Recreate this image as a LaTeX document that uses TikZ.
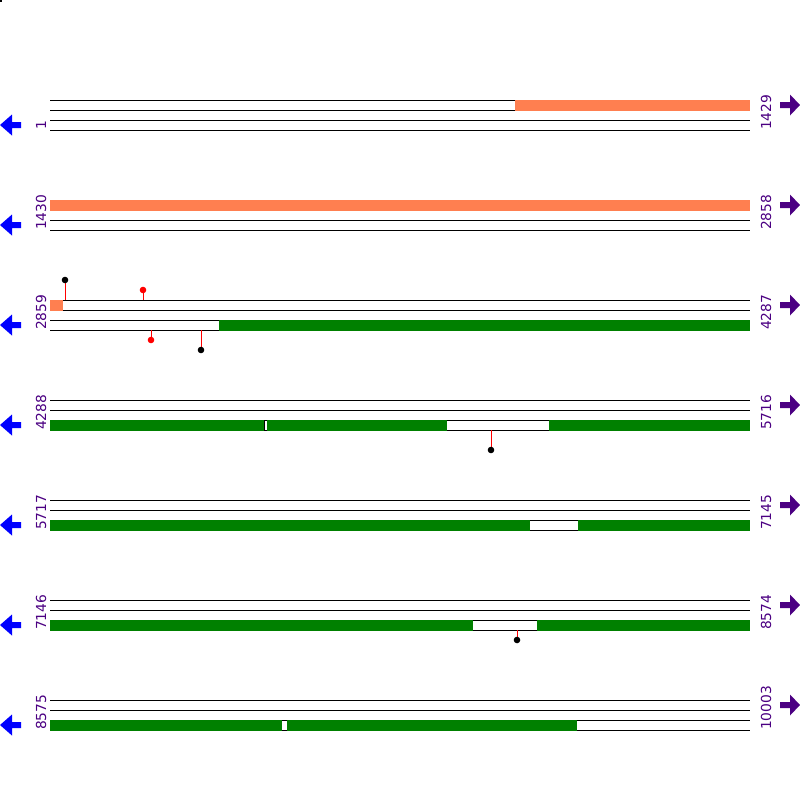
\documentclass[tikz,border=0pt]{standalone}
\usepackage{fontspec}
\newfontfamily\labfont{DejaVu Sans}
\definecolor{coralc}{HTML}{FF7F50}
\definecolor{greenc}{HTML}{008000}
\definecolor{purp}{HTML}{4B0082}
\definecolor{bluec}{HTML}{0000FF}
\definecolor{redc}{HTML}{FF0000}
\begin{document}
\begin{tikzpicture}[x=1pt,y=-1pt,
  strandline/.style={draw=black, line width=1pt},
  poslabel/.style={rotate=90, anchor=base west, text=purp, inner sep=0pt,
    font=\labfont\fontsize{13.8}{14}\selectfont},
  stem/.style={draw=redc, line width=1pt},
  headblack/.style={fill=black},
  headred/.style={fill=redc}]
\useasboundingbox (0,0) rectangle (800,800);
\fill[black] (0,0) rectangle (2,2);
\foreach \r/\la/\lb in {0/1/1429, 1/1430/2858, 2/2859/4287, 3/4288/5716, 4/5717/7145, 5/7146/8574, 6/8575/10003} {
  \pgfmathsetmacro\yo{100+100*\r}
  \foreach \d in {0,10,20,30} {\draw[strandline] (50,\yo+\d) -- (750,\yo+\d);}
  \node[poslabel] (L\r) at (46,\yo+30) {\la};
  \node[poslabel] (R\r) at (771,\yo+30) {\lb};
  \fill[bluec] (0,\yo+25) -- (12,\yo+14.5) -- (12,\yo+22) -- (21,\yo+22) -- (21,\yo+28) -- (12,\yo+28) -- (12,\yo+35.5) -- cycle;
  \fill[purp] (800,\yo+5) -- (790,\yo-5.5) -- (790,\yo+2) -- (780,\yo+2) -- (780,\yo+8) -- (790,\yo+8) -- (790,\yo+15.5) -- cycle;
}
% row 0
\fill[coralc] (515,99.5) rectangle (750,110.5);
% row 1
\fill[coralc] (50,199.5) rectangle (750,210.5);
% row 2
\fill[coralc] (50,299.5) rectangle (63,310.5);
\fill[greenc] (219,319.5) rectangle (750,330.5);
% row 3
\fill[greenc] (50,419.5) rectangle (264,430.5);
\fill[black] (264,419.5) rectangle (265,430.5);
\fill[greenc] (266.5,419.5) rectangle (447,430.5);
\fill[greenc] (549,419.5) rectangle (750,430.5);
% row 4
\fill[greenc] (50,519.5) rectangle (530,530.5);
\fill[greenc] (578,519.5) rectangle (750,530.5);
% row 5
\fill[greenc] (50,619.5) rectangle (473,630.5);
\fill[greenc] (537,619.5) rectangle (750,630.5);
% row 6
\fill[greenc] (50,719.5) rectangle (282,730.5);
\fill[greenc] (287,719.5) rectangle (577,730.5);
% lollipops
\draw[stem] (65,300) -- (65,280);   \fill[headblack] (65,280) circle (3.3);
\draw[stem] (143,300) -- (143,290); \fill[headred] (143,290) circle (3.3);
\draw[stem] (151,330) -- (151,340); \fill[headred] (151,340) circle (3.3);
\draw[stem] (201,330) -- (201,350); \fill[headblack] (201,350) circle (3.3);
\draw[stem] (491,430) -- (491,450); \fill[headblack] (491,450) circle (3.3);
\draw[stem] (517,630) -- (517,640); \fill[headblack] (517,640) circle (3.3);
\end{tikzpicture}
\end{document}
